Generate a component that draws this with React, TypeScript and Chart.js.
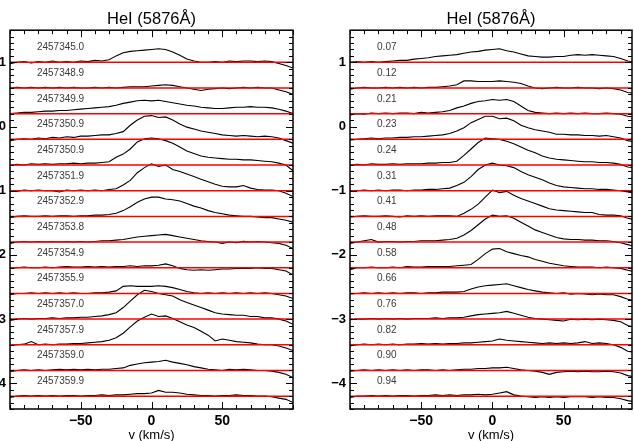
import { useEffect, useRef } from "react";
import { Chart, registerables } from "chart.js";

Chart.register(...registerables);

// ---------- data ----------
const velocity = [-100, -95, -90, -85, -80, -75, -70, -65, -60, -55, -50, -45, -40, -35, -30, -25, -20, -15, -10, -5, 0, 5, 10, 15, 20, 25, 30, 35, 40, 45, 50, 55, 60, 65, 70, 75, 80, 85, 90, 95, 100];

const offsets = [1.0, 0.6, 0.2, -0.2, -0.6, -1.0, -1.4, -1.8, -2.2, -2.6, -3.0, -3.4, -3.8, -4.2];

const dateLabels = ["2457345.0", "2457348.9", "2457349.9", "2457350.9", "2457350.9", "2457351.9", "2457352.9", "2457353.8", "2457354.9", "2457355.9", "2457357.0", "2457357.9", "2457359.0", "2457359.9"];
const phaseLabels = ["0.07", "0.12", "0.21", "0.23", "0.24", "0.31", "0.41", "0.48", "0.58", "0.66", "0.76", "0.82", "0.90", "0.94"];

const yTickValues = [-4, -3, -2, -1, 0, 1];
const xTickValues = [-50, 0, 50];
const yRange = [-4.4, 1.5];
const xRangeLeft = [-100, 100];
const xRangeRight = [-100, 98];
const title = "HeI (5876Å)";
const xTitle = "v (km/s)";

// left panel profiles (flux above continuum, in plot units), by date
const jd5345_0 = [-0.02, 0.0, 0.01, -0.01, 0.01, 0.0, 0.02, 0.0, 0.01, 0.0, 0.02, 0.01, 0.03, 0.02, 0.04, 0.10, 0.15, 0.17, 0.18, 0.19, 0.20, 0.21, 0.20, 0.16, 0.11, 0.05, 0.02, 0.0, 0.0, 0.01, 0.0, 0.02, 0.01, 0.02, 0.02, 0.01, 0.02, 0.01, -0.02, -0.05, -0.09];
const jd5348_9 = [0.0, 0.01, 0.0, 0.01, 0.0, 0.01, 0.0, 0.01, 0.0, 0.01, 0.0, 0.0, 0.01, 0.0, 0.01, 0.0, 0.01, 0.02, 0.02, 0.02, 0.03, 0.04, 0.05, 0.04, 0.02, 0.0, -0.02, -0.04, -0.02, -0.01, 0.0, -0.01, 0.0, 0.01, 0.0, 0.01, 0.0, 0.0, -0.03, -0.06, -0.10];
const jd5349_9 = [0.0, 0.01, 0.02, 0.02, 0.03, 0.04, 0.04, 0.05, 0.05, 0.06, 0.07, 0.08, 0.09, 0.10, 0.11, 0.13, 0.16, 0.18, 0.20, 0.21, 0.20, 0.21, 0.19, 0.17, 0.15, 0.13, 0.12, 0.10, 0.09, 0.08, 0.08, 0.09, 0.10, 0.10, 0.11, 0.10, 0.10, 0.09, 0.07, 0.04, 0.0];
const jd5350_9a = [-0.02, 0.0, 0.01, 0.0, 0.02, 0.01, 0.03, 0.02, 0.04, 0.03, 0.05, 0.05, 0.06, 0.07, 0.07, 0.09, 0.12, 0.22, 0.30, 0.36, 0.37, 0.34, 0.35, 0.30, 0.24, 0.19, 0.16, 0.13, 0.11, 0.09, 0.07, 0.06, 0.05, 0.06, 0.05, 0.04, 0.05, 0.04, 0.02, -0.02, -0.06];
const jd5350_9b = [0.0, 0.01, 0.0, 0.02, 0.01, 0.02, 0.01, 0.02, 0.02, 0.03, 0.02, 0.03, 0.03, 0.04, 0.05, 0.12, 0.17, 0.25, 0.36, 0.41, 0.42, 0.41, 0.38, 0.34, 0.28, 0.22, 0.18, 0.14, 0.12, 0.11, 0.10, 0.09, 0.09, 0.08, 0.08, 0.07, 0.06, 0.05, 0.03, 0.0, -0.09];
const jd5351_9 = [0.0, -0.01, 0.01, 0.0, 0.01, 0.0, 0.0, -0.02, 0.01, 0.0, 0.01, 0.0, 0.01, 0.0, 0.02, 0.03, 0.09, 0.16, 0.28, 0.36, 0.42, 0.38, 0.40, 0.33, 0.30, 0.26, 0.22, 0.18, 0.14, 0.10, 0.07, 0.06, 0.06, 0.08, 0.04, 0.02, 0.01, 0.01, 0.0, -0.04, -0.09];
const jd5352_9 = [-0.02, 0.0, 0.01, 0.0, 0.0, 0.01, 0.0, 0.01, 0.01, 0.0, 0.01, 0.01, 0.02, 0.02, 0.03, 0.05, 0.09, 0.15, 0.22, 0.27, 0.30, 0.30, 0.27, 0.26, 0.24, 0.20, 0.16, 0.13, 0.09, 0.06, 0.04, 0.02, 0.01, 0.0, 0.0, -0.01, -0.02, -0.02, -0.04, -0.06, -0.09];
const jd5353_8 = [-0.02, 0.0, 0.01, 0.0, 0.01, 0.0, 0.01, 0.0, 0.01, 0.0, 0.01, 0.0, 0.01, 0.02, 0.02, 0.03, 0.04, 0.06, 0.08, 0.09, 0.10, 0.11, 0.12, 0.10, 0.08, 0.06, 0.04, 0.02, 0.01, 0.0, -0.02, 0.0, -0.01, 0.01, 0.0, 0.01, 0.0, -0.01, -0.02, -0.05, -0.10];
const jd5354_9 = [-0.01, 0.0, 0.01, 0.0, 0.0, 0.01, 0.0, 0.01, 0.02, 0.01, 0.01, 0.02, 0.01, 0.02, 0.01, 0.02, 0.02, 0.03, 0.02, 0.03, 0.03, 0.04, 0.06, 0.03, -0.01, -0.03, -0.04, -0.03, -0.04, -0.03, -0.02, -0.02, -0.01, -0.01, -0.01, 0.0, -0.01, -0.01, -0.03, -0.05, -0.11];
const jd5355_9 = [-0.02, 0.0, 0.0, 0.01, 0.0, 0.01, 0.0, 0.01, 0.0, 0.01, 0.0, 0.0, 0.01, 0.01, 0.02, 0.04, 0.11, 0.12, 0.11, 0.11, 0.11, 0.12, 0.11, 0.09, 0.06, 0.03, 0.01, 0.0, 0.01, 0.0, 0.01, 0.0, 0.01, 0.0, 0.01, 0.0, 0.01, 0.0, -0.02, -0.04, -0.08];
const jd5357_0 = [-0.02, 0.0, 0.01, 0.0, 0.01, 0.01, 0.02, 0.01, 0.02, 0.02, 0.03, 0.03, 0.04, 0.05, 0.07, 0.10, 0.18, 0.28, 0.38, 0.45, 0.43, 0.40, 0.38, 0.36, 0.30, 0.26, 0.22, 0.18, 0.14, 0.10, 0.08, 0.07, 0.06, 0.06, 0.04, 0.04, 0.02, 0.02, 0.0, -0.03, -0.08];
const jd5357_9 = [-0.01, 0.0, 0.01, 0.05, 0.0, 0.01, 0.0, 0.01, 0.01, 0.02, 0.02, 0.03, 0.04, 0.05, 0.07, 0.11, 0.18, 0.28, 0.37, 0.43, 0.48, 0.44, 0.45, 0.41, 0.36, 0.31, 0.27, 0.21, 0.15, 0.06, 0.09, 0.07, 0.05, 0.04, 0.03, 0.01, 0.0, 0.0, -0.02, -0.05, -0.09];
const jd5359_0 = [-0.02, 0.0, 0.01, 0.0, 0.01, 0.0, 0.01, 0.02, 0.01, 0.02, 0.01, 0.02, 0.01, 0.02, 0.02, 0.03, 0.04, 0.08, 0.10, 0.12, 0.13, 0.14, 0.16, 0.13, 0.11, 0.09, 0.06, 0.04, 0.02, 0.01, 0.0, 0.02, 0.01, 0.02, 0.01, 0.0, 0.0, -0.01, -0.03, -0.06, -0.11];
const jd5359_9 = [-0.02, 0.0, 0.01, 0.0, 0.01, 0.0, 0.01, 0.0, 0.01, 0.01, 0.0, 0.01, 0.01, 0.02, 0.01, 0.02, 0.02, 0.03, 0.04, 0.04, 0.05, 0.09, 0.06, 0.06, 0.05, 0.03, 0.02, 0.01, 0.01, 0.0, 0.01, 0.01, 0.02, 0.01, 0.01, 0.0, 0.0, -0.01, -0.03, -0.05, -0.10];

// right panel profiles, by phase
const ph007 = [0.0, 0.01, 0.0, 0.01, 0.0, 0.01, 0.02, 0.03, 0.03, 0.05, 0.06, 0.07, 0.09, 0.10, 0.11, 0.12, 0.14, 0.16, 0.17, 0.19, 0.20, 0.21, 0.18, 0.16, 0.13, 0.10, 0.09, 0.08, 0.08, 0.09, 0.09, 0.11, 0.12, 0.11, 0.12, 0.11, 0.10, 0.09, 0.06, 0.02, 0.0];
const ph012 = [-0.02, 0.0, 0.01, 0.0, 0.0, 0.01, 0.0, 0.01, 0.0, 0.01, 0.0, 0.01, 0.01, 0.02, 0.03, 0.05, 0.11, 0.11, 0.10, 0.10, 0.10, 0.11, 0.10, 0.09, 0.07, 0.03, 0.0, -0.01, 0.0, 0.01, 0.0, 0.0, 0.01, 0.0, 0.0, -0.01, 0.0, -0.01, -0.03, -0.07, -0.08];
const ph021 = [-0.02, 0.0, -0.01, 0.01, 0.0, 0.01, 0.0, 0.01, 0.01, 0.0, 0.02, 0.01, 0.02, 0.03, 0.05, 0.09, 0.12, 0.16, 0.19, 0.20, 0.22, 0.21, 0.22, 0.19, 0.12, 0.05, 0.02, 0.01, 0.0, 0.01, 0.0, 0.01, 0.0, 0.01, 0.0, 0.0, 0.01, 0.0, -0.01, -0.04, -0.05];
const ph023 = [-0.01, 0.0, 0.01, 0.02, 0.01, 0.02, 0.02, 0.03, 0.03, 0.04, 0.04, 0.05, 0.06, 0.07, 0.09, 0.13, 0.18, 0.26, 0.31, 0.36, 0.36, 0.32, 0.33, 0.29, 0.22, 0.18, 0.15, 0.13, 0.11, 0.08, 0.08, 0.07, 0.07, 0.06, 0.06, 0.05, 0.06, 0.04, 0.02, -0.02, -0.04];
const ph024 = [0.0, 0.01, 0.0, 0.02, 0.01, 0.01, 0.02, 0.01, 0.02, 0.02, 0.02, 0.03, 0.03, 0.04, 0.04, 0.06, 0.15, 0.25, 0.35, 0.42, 0.41, 0.40, 0.37, 0.33, 0.28, 0.23, 0.19, 0.14, 0.11, 0.09, 0.08, 0.07, 0.06, 0.05, 0.05, 0.04, 0.04, 0.03, 0.01, -0.03, -0.04];
const ph031 = [-0.01, 0.0, 0.01, 0.0, 0.01, 0.0, 0.01, 0.01, 0.0, 0.01, 0.01, 0.02, 0.02, 0.03, 0.04, 0.08, 0.13, 0.22, 0.33, 0.40, 0.43, 0.40, 0.39, 0.36, 0.30, 0.25, 0.21, 0.17, 0.12, 0.08, 0.06, 0.05, 0.04, 0.03, 0.03, 0.02, 0.02, 0.01, 0.0, -0.02, -0.04];
const ph041 = [-0.01, 0.0, 0.01, 0.0, 0.0, 0.01, 0.0, -0.01, 0.01, 0.0, 0.01, 0.0, 0.01, 0.01, 0.01, 0.0, 0.05, 0.11, 0.19, 0.30, 0.41, 0.37, 0.39, 0.33, 0.28, 0.24, 0.20, 0.16, 0.12, 0.10, 0.09, 0.08, 0.07, 0.06, 0.06, 0.03, 0.02, 0.02, 0.01, -0.03, -0.05];
const ph048 = [-0.02, 0.0, 0.02, 0.04, 0.0, 0.01, 0.01, 0.0, 0.01, 0.01, 0.02, 0.02, 0.02, 0.03, 0.04, 0.06, 0.11, 0.18, 0.27, 0.36, 0.42, 0.40, 0.41, 0.37, 0.31, 0.25, 0.19, 0.15, 0.11, 0.07, 0.05, 0.04, 0.04, 0.03, 0.03, 0.02, 0.02, 0.01, -0.01, -0.04, -0.07];
const ph058 = [-0.03, 0.0, 0.0, 0.01, 0.0, 0.0, 0.01, 0.0, 0.02, 0.01, 0.01, 0.02, 0.02, 0.02, 0.02, 0.03, 0.04, 0.05, 0.13, 0.22, 0.29, 0.30, 0.25, 0.22, 0.19, 0.17, 0.13, 0.10, 0.07, 0.05, 0.03, 0.02, 0.01, 0.01, 0.01, 0.0, 0.01, 0.0, -0.01, -0.04, -0.06];
const ph066 = [-0.01, 0.0, 0.01, 0.0, 0.01, 0.0, 0.01, 0.0, 0.01, 0.01, 0.0, 0.01, 0.01, 0.02, 0.02, 0.02, 0.03, 0.07, 0.10, 0.12, 0.13, 0.14, 0.15, 0.12, 0.09, 0.06, 0.04, 0.02, 0.01, 0.0, 0.01, -0.01, 0.0, -0.01, -0.02, -0.01, -0.02, -0.02, -0.05, -0.09, -0.11];
const ph076 = [-0.01, 0.0, 0.0, 0.01, 0.0, 0.01, 0.0, 0.01, 0.0, 0.01, 0.01, 0.01, 0.02, 0.01, 0.02, 0.02, 0.03, 0.05, 0.07, 0.08, 0.09, 0.10, 0.12, 0.09, 0.06, 0.03, 0.01, 0.0, -0.01, -0.02, -0.03, 0.0, -0.01, 0.0, -0.01, 0.0, -0.01, -0.02, -0.04, -0.10, -0.13];
const ph082 = [-0.02, 0.0, 0.01, 0.0, 0.01, 0.0, 0.01, 0.0, 0.01, 0.01, 0.02, 0.01, 0.02, 0.01, 0.02, 0.02, 0.03, 0.03, 0.04, 0.05, 0.06, 0.09, 0.07, 0.06, 0.05, 0.04, 0.03, 0.02, 0.03, 0.02, 0.03, 0.02, 0.03, 0.05, 0.02, 0.03, 0.02, 0.0, -0.04, -0.10, -0.12];
const ph090 = [-0.01, 0.0, 0.01, 0.0, 0.01, 0.0, 0.01, 0.0, 0.01, 0.0, 0.01, 0.01, 0.0, 0.01, 0.0, 0.01, 0.02, 0.02, 0.03, 0.03, 0.04, 0.04, 0.05, 0.03, 0.01, 0.0, -0.01, -0.03, -0.06, -0.03, -0.02, -0.01, -0.02, -0.01, -0.02, -0.02, -0.01, -0.02, -0.04, -0.08, -0.10];
const ph094 = [-0.02, 0.0, 0.0, 0.01, 0.0, 0.01, 0.0, 0.01, 0.01, 0.0, 0.01, 0.01, 0.02, 0.01, 0.02, 0.01, 0.02, 0.02, 0.03, 0.02, 0.03, 0.05, 0.07, 0.02, 0.0, -0.01, -0.02, -0.01, -0.02, -0.01, -0.02, -0.01, -0.01, -0.01, -0.02, -0.01, -0.02, -0.02, -0.04, -0.07, -0.09];

const leftProfiles = [jd5345_0, jd5348_9, jd5349_9, jd5350_9a, jd5350_9b, jd5351_9, jd5352_9, jd5353_8, jd5354_9, jd5355_9, jd5357_0, jd5357_9, jd5359_0, jd5359_9];
const rightProfiles = [ph007, ph012, ph021, ph023, ph024, ph031, ph041, ph048, ph058, ph066, ph076, ph082, ph090, ph094];

// label placement (in data units)
const labelVelocity = -81;
const labelLift = 0.23;
const xMinorStep = 10;
const yMinorStep = 0.1;

const FONT = '"Liberation Sans", Arial, Helvetica, sans-serif';

const fmt = (v: number) => (v < 0 ? "\u2212" + Math.abs(v) : String(v));

const framePlugin = {
  id: "frame",
  afterDatasetsDraw(chart: any, _args: any, opts: any) {
    const { ctx, chartArea: a, scales } = chart;
    const x = scales.x;
    const y = scales.y;
    ctx.save();
    // spectrum labels
    ctx.font = `10px ${FONT}`;
    ctx.fillStyle = "#3a3a3a";
    ctx.textAlign = "left";
    ctx.textBaseline = "middle";
    (opts.labels as string[]).forEach((t, i) => {
      ctx.fillText(t, x.getPixelForValue(labelVelocity), y.getPixelForValue(offsets[i] + labelLift));
    });
    // ticks (inward, all four sides)
    ctx.strokeStyle = "#000";
    ctx.lineWidth = 1;
    ctx.beginPath();
    const xmin = x.min, xmax = x.max, ymin = y.min, ymax = y.max;
    const nx0 = Math.ceil(xmin / xMinorStep), nx1 = Math.floor(xmax / xMinorStep);
    for (let k = nx0; k <= nx1; k++) {
      const v = k * xMinorStep;
      const major = xTickValues.includes(v);
      const len = major ? 7 : 4;
      const px = Math.round(x.getPixelForValue(v)) + 0.5;
      ctx.moveTo(px, a.bottom);
      ctx.lineTo(px, a.bottom - len);
      ctx.moveTo(px, a.top);
      ctx.lineTo(px, a.top + len);
    }
    const ny0 = Math.ceil(ymin / yMinorStep - 1e-6), ny1 = Math.floor(ymax / yMinorStep + 1e-6);
    for (let k = ny0; k <= ny1; k++) {
      const v = Math.round(k * yMinorStep * 10) / 10;
      const major = yTickValues.includes(v);
      const len = major ? 7 : 4;
      const py = Math.round(y.getPixelForValue(v)) + 0.5;
      ctx.moveTo(a.left, py);
      ctx.lineTo(a.left + len, py);
      ctx.moveTo(a.right, py);
      ctx.lineTo(a.right - len, py);
    }
    ctx.stroke();
    // box
    ctx.lineWidth = 1.5;
    ctx.strokeRect(a.left, a.top, a.right - a.left, a.bottom - a.top);
    ctx.restore();
  },
};

type PanelProps = {
  labels: string[];
  profiles: number[][];
  xRange: number[];
  axisWidth: number;
  padRight: number;
  left: number;
  width: number;
};

function Panel(props: PanelProps) {
  const ref = useRef<HTMLCanvasElement | null>(null);
  useEffect(() => {
    if (!ref.current) return;
    const spectra = props.profiles.map((prof, i) => ({
      data: velocity.map((v, j) => ({ x: v, y: offsets[i] + prof[j] })),
      borderColor: "#000000",
      borderWidth: 1.1,
      pointRadius: 0,
      tension: 0,
      fill: false,
      order: 2,
    }));
    const baselines = offsets.map((o) => ({
      data: [
        { x: props.xRange[0], y: o },
        { x: props.xRange[1], y: o },
      ],
      borderColor: "#ff0000",
      borderWidth: 1.5,
      pointRadius: 0,
      fill: false,
      order: 1,
    }));
    const chart = new Chart(ref.current, {
      type: "line",
      data: { datasets: [...baselines, ...spectra] as any },
      plugins: [framePlugin as any],
      options: {
        animation: false,
        responsive: false,
        devicePixelRatio: 1,
        layout: { padding: { left: 0, right: props.padRight, top: 0, bottom: 0 } },
        plugins: {
          legend: { display: false },
          tooltip: { enabled: false },
          title: {
            display: true,
            text: title,
            color: "#000",
            font: { family: FONT, size: 16.5, weight: "normal" },
            padding: { top: 10, bottom: 0.4 },
          },
          frame: { labels: props.labels },
        } as any,
        scales: {
          x: {
            type: "linear",
            min: props.xRange[0],
            max: props.xRange[1],
            grid: { display: false, drawTicks: false },
            border: { display: false },
            afterBuildTicks: (s: any) => {
              s.ticks = xTickValues.map((v) => ({ value: v }));
            },
            afterFit: (s: any) => {
              s.height = 32;
            },
            ticks: {
              padding: 4,
              color: "#000",
              font: { family: FONT, size: 14, weight: "bold" },
              callback: (v: any) => fmt(Number(v)),
              maxRotation: 0,
            },
            title: {
              display: true,
              text: xTitle,
              color: "#000",
              font: { family: FONT, size: 13, lineHeight: 1 },
              padding: { top: 0, bottom: -1 },
            },
          },
          y: {
            type: "linear",
            position: "left",
            min: yRange[0],
            max: yRange[1],
            grid: { display: false, drawTicks: false },
            border: { display: false },
            afterBuildTicks: (s: any) => {
              s.ticks = yTickValues.map((v) => ({ value: v }));
            },
            afterFit: (s: any) => {
              s.width = props.axisWidth;
            },
            ticks: {
              padding: 4,
              color: "#000",
              font: { family: FONT, size: 13, weight: "bold" },
              callback: (v: any) => fmt(Number(v)),
            },
          },
          yRight: {
            type: "linear",
            position: "right",
            min: yRange[0],
            max: yRange[1],
            grid: { display: false, drawTicks: false },
            border: { display: false },
            ticks: { display: false },
            afterFit: (s: any) => {
              s.width = props.axisWidth;
            },
          },
        },
      } as any,
    });
    return () => chart.destroy();
  }, []);
  return (
    <div style={{ position: "absolute", left: props.left, top: 0, width: props.width, height: 441 }}>
      <canvas ref={ref} width={props.width} height={441} style={{ width: props.width, height: 441, display: "block" }} />
    </div>
  );
}

export default function App() {
  return (
    <div style={{ position: "absolute", left: 0, top: 0, width: 634, height: 441, background: "#ffffff", overflow: "hidden" }}>
      <Panel labels={dateLabels} profiles={leftProfiles} xRange={xRangeLeft} axisWidth={10} padRight={14} left={0} width={317} />
      <Panel labels={phaseLabels} profiles={rightProfiles} xRange={xRangeRight} axisWidth={33} padRight={0} left={317} width={348} />
    </div>
  );
}
